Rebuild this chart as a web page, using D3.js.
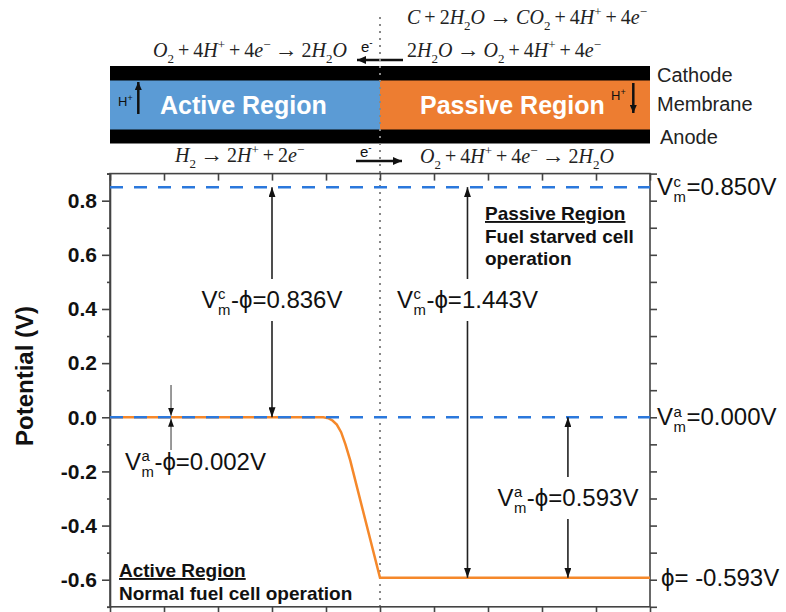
<!DOCTYPE html>
<html><head><meta charset="utf-8">
<script src="https://cdn.jsdelivr.net/npm/d3@7"></script>
<style>
html,body{margin:0;padding:0;background:#fff;}
svg{display:block;}
text{font-family:"Liberation Sans",Arial,sans-serif;}
text.serif{font-family:"Liberation Serif","Times New Roman",serif;}
</style></head>
<body>
<svg id="c" width="786" height="612"></svg>
<script>
// ---------- data ----------
const xTicks = [0,1,2,3,4,5,6,7,8,9,10];
const yMajorTicks = [-0.6,-0.4,-0.2,0.0,0.2,0.4,0.6,0.8];
const yMinorTicks = [-0.7,-0.5,-0.3,-0.1,0.1,0.3,0.5,0.7,0.9];
const curveX = [0, 3.95, 4.05, 4.12, 4.2, 4.28, 4.36, 4.45, 4.5, 5.0, 10];
const curveY = [0, 0, -0.004, -0.012, -0.027, -0.055, -0.1, -0.16, -0.2, -0.593, -0.593];
const levelNames = ["c", "a"];
const levelValues = [0.850, 0.000];
const phiValue = -0.593;
const diffLabels = ["0.836", "0.002", "1.443", "0.593"];
const regionX = [0, 5, 10];           // active region [0,5], passive region [5,10]
const regionNames = ["Active Region", "Passive Region"];
const layerNames = ["Cathode", "Membrane", "Anode"];
const eqCathodeActive = "O_2 + 4H^+ + 4e^− → 2H_2O";
const eqCathodePassive1 = "C + 2H_2O → CO_2 + 4H^+ + 4e^−";
const eqCathodePassive2 = "2H_2O → O_2 + 4H^+ + 4e^−";
const eqAnodeActive = "H_2 → 2H^+ + 2e^−";
const eqAnodePassive = "O_2 + 4H^+ + 4e^− → 2H_2O";

// ---------- setup ----------
const svg = d3.select("#c");
const x = d3.scaleLinear().domain([0,10]).range([110,650]);
const y = d3.scaleLinear().domain([-0.7,0.9]).range([606.8,173.6]);
const axisColor = "#444";
const blue = "#2b78dc", orange = "#f5882a";

const defs = svg.append("defs");
function marker(id, w, h){
  defs.append("marker").attr("id",id).attr("viewBox",`0 0 ${w} ${h}`)
    .attr("refX",w).attr("refY",h/2).attr("markerWidth",w).attr("markerHeight",h)
    .attr("markerUnits","userSpaceOnUse").attr("orient","auto")
    .append("path").attr("d",`M0,0L${w},${h/2}L0,${h}Z`).attr("fill","#111");
}
marker("big",10,7); marker("small",8,6); marker("el",9,8); marker("hp",8,7);

// ---------- top schematic ----------
const bandTop = 66, bandMid1 = 80.5, bandMid2 = 129.5, bandBot = 143.5;
svg.append("rect").attr("x",x(0)).attr("y",bandTop).attr("width",x(10)-x(0)).attr("height",bandBot-bandTop).attr("fill","#000");
svg.append("rect").attr("x",x(regionX[0])).attr("y",bandMid1).attr("width",x(regionX[1])-x(regionX[0])).attr("height",bandMid2-bandMid1).attr("fill","#5b9bd5");
svg.append("rect").attr("x",x(regionX[1])).attr("y",bandMid1).attr("width",x(regionX[2])-x(regionX[1])).attr("height",bandMid2-bandMid1).attr("fill","#ed7d31");
svg.append("text").attr("x",160).attr("y",114).attr("fill","#fff").attr("font-weight","bold").attr("font-size",25).text(regionNames[0]);
svg.append("text").attr("x",420).attr("y",114).attr("fill","#fff").attr("font-weight","bold").attr("font-size",25).text(regionNames[1]);
// H+ arrows
function hplus(xx, yy){
  const t = svg.append("text").attr("x",xx).attr("y",yy).attr("font-size",13).attr("fill","#111");
  t.append("tspan").text("H");
  t.append("tspan").attr("dy",-5).attr("font-size",9).text("+");
}
hplus(118,106);
svg.append("line").attr("x1",138.3).attr("y1",114).attr("x2",138.3).attr("y2",82).attr("stroke","#111").attr("stroke-width",2.5).attr("marker-end","url(#hp)");
hplus(611,100);
svg.append("line").attr("x1",633.3).attr("y1",83).attr("x2",633.3).attr("y2",113).attr("stroke","#111").attr("stroke-width",2.5).attr("marker-end","url(#hp)");
// layer names
[82,111,144].forEach((yy,i)=>{
  svg.append("text").attr("x",i===2?660:657).attr("y",yy).attr("font-size",20).attr("fill","#222").text(layerNames[i]);
});

// equations
function eq(xx, yy, str, fs){
  const t = svg.append("text").attr("class","serif").attr("x",xx).attr("y",yy)
    .attr("font-size",fs).attr("fill","#222");
  const toks = [];
  for(let i=0;i<str.length;i++){
    let ch = str[i], sh = 0;
    if(ch==="_"){ ch = str[++i]; sh = 0.28*fs; }
    else if(ch==="^"){ ch = str[++i]; sh = -0.38*fs; }
    const it = /[A-Za-z]/.test(ch);
    const ar = ch==="→";
    const last = toks[toks.length-1];
    if(last && last.sh===sh && last.it===it && !ar && !last.ar) last.s += ch;
    else toks.push({s:ch, sh:sh, it:it, ar:ar});
  }
  let cur = 0;
  toks.forEach(tk=>{
    const ts = t.append("tspan").attr("dy", tk.sh-cur).text(tk.s.replace(/ /g,"\u2009"));
    if(tk.it) ts.attr("font-style","italic");
    if(tk.sh!==0) ts.attr("font-size", fs*0.65);
    if(tk.ar) ts.attr("font-size", fs*1.15);
    cur = tk.sh;
  });
  return t;
}
eq(407,24,eqCathodePassive1,20);
eq(153,57,eqCathodeActive,20);
eq(407,57,eqCathodePassive2,20);
eq(175,162,eqAnodeActive,20);
eq(420,163,eqAnodePassive,20);

// electron arrows
function elabel(xx,yy){
  const t = svg.append("text").attr("x",xx).attr("y",yy).attr("font-size",15).attr("fill","#111");
  t.append("tspan").text("e");
  t.append("tspan").attr("dy",-6).attr("font-size",10).text("-");
}
elabel(361,52);
svg.append("line").attr("x1",403).attr("y1",60).attr("x2",357).attr("y2",60).attr("stroke","#111").attr("stroke-width",2.5).attr("marker-end","url(#el)");
elabel(360,157);
svg.append("line").attr("x1",356).attr("y1",161).attr("x2",402).attr("y2",161).attr("stroke","#111").attr("stroke-width",2.5).attr("marker-end","url(#el)");

// ---------- plot ----------
// divider dotted line
svg.append("line").attr("x1",x(regionX[1])).attr("x2",x(regionX[1])).attr("y1",17).attr("y2",y(-0.7))
  .attr("stroke","#888").attr("stroke-width",2).attr("stroke-dasharray","2,5");

// axes
const gL = svg.append("g").attr("transform",`translate(${x(0)},0)`);
gL.call(d3.axisLeft(y).tickValues(yMajorTicks).tickSize(8).tickPadding(5).tickFormat(d=>d.toFixed(1)));
gL.append("g").call(d3.axisLeft(y).tickValues(yMinorTicks).tickSize(3).tickFormat(""));
const gR = svg.append("g").attr("transform",`translate(${x(10)},0)`);
gR.call(d3.axisLeft(y).tickValues(yMajorTicks.concat(yMinorTicks)).tickSize(-7).tickFormat(""));
const gT = svg.append("g").attr("transform",`translate(0,${y(0.9)})`);
gT.call(d3.axisBottom(x).tickValues(xTicks).tickSize(7).tickFormat(""));
const gB = svg.append("g").attr("transform",`translate(0,${y(-0.7)})`);
gB.call(d3.axisBottom(x).tickValues(xTicks).tickSize(7).tickFormat(""));
[gL,gR,gT,gB].forEach(g=>{
  g.selectAll("path,line").attr("stroke",axisColor).attr("stroke-width",1.6);
  g.select(".domain").attr("d", null);
});
gL.selectAll(".tick text").attr("font-size",21).attr("font-weight","bold").attr("fill","#111");
// frame
svg.append("rect").attr("x",x(0)).attr("y",y(0.9)).attr("width",x(10)-x(0)).attr("height",y(-0.7)-y(0.9))
  .attr("fill","none").attr("stroke",axisColor).attr("stroke-width",1.6);

svg.append("text").attr("transform",`translate(33,376) rotate(-90)`).attr("text-anchor","middle")
  .attr("font-size",24).attr("font-weight","bold").attr("fill","#111").text("Potential (V)");

// orange curve
const pts = curveX.map((d,i)=>[d,curveY[i]]);
svg.append("path").datum(pts).attr("fill","none").attr("stroke",orange).attr("stroke-width",2.5)
  .attr("d", d3.line().x(d=>x(d[0])).y(d=>y(d[1])));

// blue dashed levels
levelValues.forEach(v=>{
  svg.append("line").attr("x1",x(0)).attr("x2",x(10)).attr("y1",y(v)).attr("y2",y(v))
    .attr("stroke",blue).attr("stroke-width",2.5).attr("stroke-dasharray","13,11");
});

// label helper: V with stacked sup/sub, then rest
function vLabel(xx, yy, sup, rest, fs, anchor){
  const g = svg.append("g");
  const t = g.append("text").attr("font-size",fs).attr("fill","#111").text("V");
  const w = t.node().getComputedTextLength();
  const s1 = g.append("text").attr("x",w+0.5).attr("y",-fs*0.36).attr("font-size",fs*0.62).attr("fill","#111").text(sup);
  const s2 = g.append("text").attr("x",w+0.5).attr("y",fs*0.3).attr("font-size",fs*0.62).attr("fill","#111").text("m");
  const w2 = Math.max(s1.node().getComputedTextLength(), s2.node().getComputedTextLength());
  const r = g.append("text").attr("x",w+w2+1).attr("font-size",fs).attr("fill","#111").text(rest);
  const tot = w+w2+1+r.node().getComputedTextLength();
  const dx = anchor==="middle" ? -tot/2 : anchor==="end" ? -tot : 0;
  g.attr("transform",`translate(${xx+dx},${yy})`);
}
// right-side level labels
vLabel(657, y(levelValues[0])+8, levelNames[0], "=" + levelValues[0].toFixed(3) + "V", 24, "start");
vLabel(657, y(levelValues[1])+8, levelNames[1], "=" + levelValues[1].toFixed(3) + "V", 24, "start");
svg.append("text").attr("x",661).attr("y",y(phiValue)+8).attr("font-size",24).attr("fill","#111").text("\u03D5= " + phiValue.toFixed(3) + "V");

// double arrows with label gap
function gapArrow(xv, vTop, vBot, labelY, gapHalf, mk){
  const xx = x(xv);
  svg.append("line").attr("x1",xx).attr("x2",xx).attr("y1",labelY-gapHalf).attr("y2",y(vTop))
    .attr("stroke","#222").attr("stroke-width",1.6).attr("marker-end",`url(#${mk})`);
  svg.append("line").attr("x1",xx).attr("x2",xx).attr("y1",labelY+gapHalf).attr("y2",y(vBot))
    .attr("stroke","#222").attr("stroke-width",1.6).attr("marker-end",`url(#${mk})`);
}
gapArrow(3.0, levelValues[0], levelValues[1], 300, 21, "big");
vLabel(x(3.0), 308, "c", "-\u03D5=" + diffLabels[0] + "V", 24, "middle");

gapArrow(6.62, levelValues[0], phiValue, 300, 21, "big");
vLabel(x(6.62), 308, "c", "-\u03D5=" + diffLabels[2] + "V", 24, "middle");

gapArrow(8.48, levelValues[1], phiValue, 498, 21, "big");
vLabel(x(8.48), 506, "a", "-\u03D5=" + diffLabels[3] + "V", 24, "middle");

// small arrows at 0.0 for 0.002 V
const xs = x(1.13);
svg.append("line").attr("x1",xs).attr("x2",xs).attr("y1",385).attr("y2",y(levelValues[1])-1.5)
  .attr("stroke","#555").attr("stroke-width",1.2).attr("marker-end","url(#small)");
svg.append("line").attr("x1",xs).attr("x2",xs).attr("y1",450).attr("y2",y(levelValues[1])+1.5)
  .attr("stroke","#555").attr("stroke-width",1.2).attr("marker-end","url(#small)");
vLabel(125, 470, "a", "-\u03D5=" + diffLabels[1] + "V", 24, "start");

// region texts
function block(xx, yy, lines){
  lines.forEach((l,i)=>{
    const t = svg.append("text").attr("x",xx).attr("y",yy+i*22.5).attr("font-size",19).attr("font-weight","bold").attr("fill","#111").text(l);
    if(i===0) t.style("text-decoration","underline");
  });
}
block(485, 220, [regionNames[1], "Fuel starved cell", "operation"]);
block(119, 577, [regionNames[0], "Normal fuel cell operation"]);
</script>
</body></html>
